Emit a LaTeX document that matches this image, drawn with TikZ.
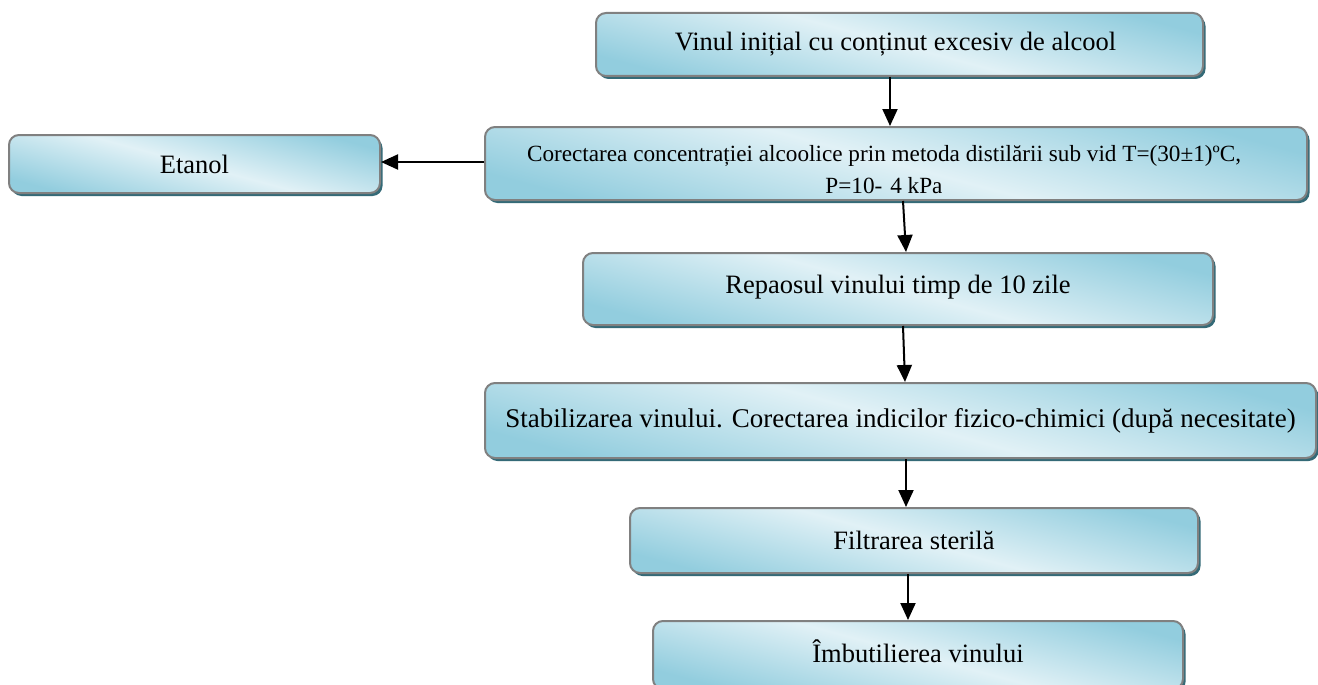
\documentclass[tikz,border=0pt]{standalone}
\usepackage{fontspec}
\setmainfont{Liberation Serif}
\usetikzlibrary{arrows.meta,shadows}
\definecolor{boxblue}{RGB}{146,205,222}
\definecolor{boxlight}{RGB}{225,241,246}
\definecolor{boxline}{RGB}{128,128,128}
\definecolor{shadowteal}{RGB}{30,90,105}
\tikzset{
  stepbox/.style={draw=boxline, line width=2pt, rounded corners=10pt,
    left color=boxblue, right color=boxblue, middle color=boxlight, shading angle=-15,
    drop shadow={shadow xshift=2.5pt, shadow yshift=-3pt, fill=shadowteal, opacity=0.9},
    inner sep=0pt, font=\fontsize{26.5}{30}\selectfont},
  flow/.style={line width=2pt, -{Triangle[width=15pt,length=17pt]}}
}
\begin{document}
\begin{tikzpicture}[x=1pt,y=-1pt]
\clip (0,0) rectangle (1318,685);
\fill[white] (0,0) rectangle (1318,685);
\node[stepbox, minimum width=607pt, minimum height=63pt] (vinul) at (899.5,44.5) {\hspace*{-8pt}Vinul inițial cu conținut excesiv de alcool};
\node[stepbox, minimum width=371pt, minimum height=58pt] (etanol) at (194.5,164) {Etanol};
\node[stepbox, minimum width=822pt, minimum height=73pt, font=\fontsize{23.2}{33}\selectfont] (corect) at (896,163.5)
  {\hspace*{-24pt}\raisebox{-14pt}[0pt][0pt]{\begin{tabular}{@{}c@{}}Corectarea concentrației alcoolice prin metoda distilării sub vid T=(30±1)ºC,\\[-1pt] P=10-\hspace{8pt}4 kPa\end{tabular}}};
\node[stepbox, minimum width=630pt, minimum height=72pt] (repaos) at (898,289) {\raisebox{9pt}{Repaosul vinului timp de 10 zile}};
\node[stepbox, minimum width=831pt, minimum height=75pt, font=\fontsize{27}{30}\selectfont] (stab) at (900.5,420.5) {Stabilizarea vinului. Corectarea indicilor fizico-chimici (după necesitate)};
\node[stepbox, minimum width=568pt, minimum height=65pt] (filt) at (914,540.5) {Filtrarea sterilă};
\node[stepbox, minimum width=530pt, minimum height=68pt] (imb) at (918,655) {\raisebox{7pt}{Îmbutilierea vinului}};
\draw[flow] ([xshift=-9.5pt]vinul.south) -- ([xshift=-6pt]corect.north);
\draw[flow] (corect.west |- 0,162) -- (etanol.east |- 0,162);
\draw[flow] ([xshift=7pt]corect.south) -- ([xshift=8pt]repaos.north);
\draw[flow] ([xshift=5pt]repaos.south) -- ([xshift=4.5pt]stab.north);
\draw[flow] ([xshift=5.5pt]stab.south) -- ([xshift=-8pt]filt.north);
\draw[flow] ([xshift=-6pt]filt.south) -- ([xshift=-10pt]imb.north);
\end{tikzpicture}
\end{document}
